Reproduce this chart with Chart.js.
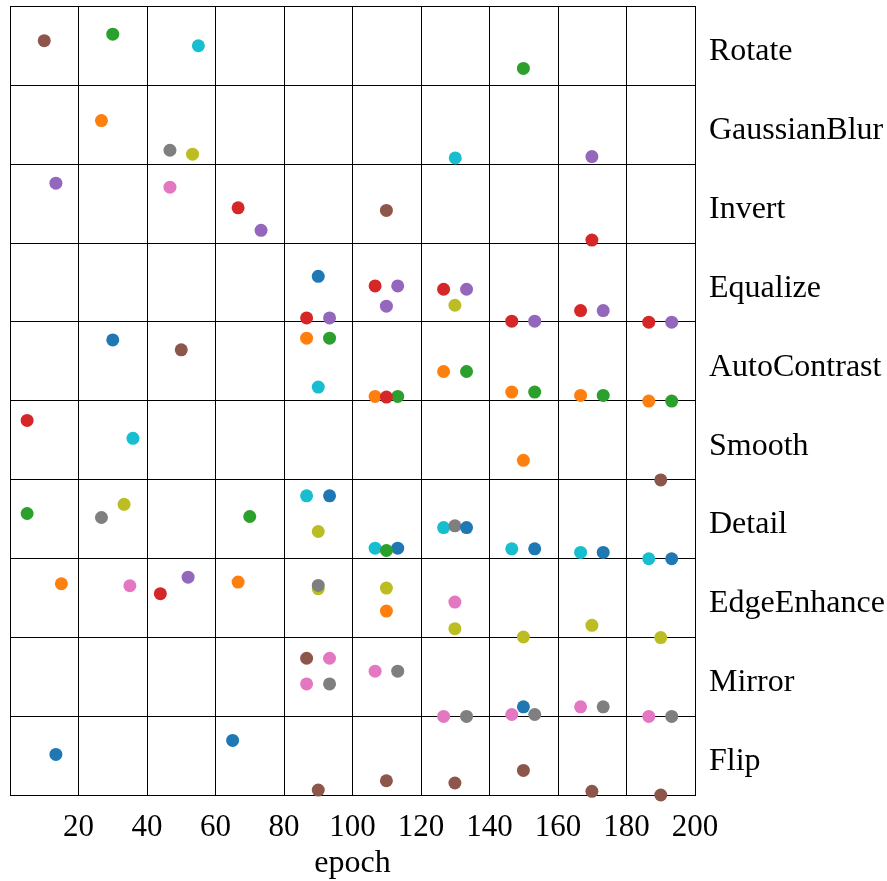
<!DOCTYPE html>
<html>
<head>
<meta charset="utf-8">
<script src="https://cdn.jsdelivr.net/npm/chart.js@4/dist/chart.umd.min.js"></script>
<style>
  html, body { margin: 0; padding: 0; background: #fff; }
  #wrap { width: 887px; height: 881px; }
</style>
</head>
<body>
<div id="wrap"><canvas id="chart"></canvas></div>
<script>
// rows, bottom to top (row i spans i .. i+1 on the y scale)
const rows = ['Flip', 'Mirror', 'EdgeEnhance', 'Detail', 'Smooth', 'AutoContrast', 'Equalize', 'Invert', 'GaussianBlur', 'Rotate'];
const xTicks = [0, 20, 40, 60, 80, 100, 120, 140, 160, 180, 200];

// points per colour: epoch and position on the row scale
const redEpoch = [66.6, 169.9, 86.6, 106.6, 126.6, 146.5, 166.6, 186.5, 109.9, 5, 43.9];
const redY = [7.447, 7.038, 6.051, 6.456, 6.414, 6.009, 6.143, 5.996, 5.047, 4.751, 2.553];

const greenEpoch = [30, 149.9, 93.3, 113.2, 133.3, 153.2, 173.2, 193.2, 5, 70, 109.9];
const greenY = [9.649, 9.215, 5.794, 5.055, 5.371, 5.110, 5.067, 4.996, 3.570, 3.532, 3.101];

const blueEpoch = [90, 30, 93.3, 113.2, 133.3, 153.2, 173.2, 193.2, 149.9, 13.4, 65];
const blueY = [6.578, 5.772, 3.794, 3.130, 3.392, 3.122, 3.076, 2.996, 1.118, 0.515, 0.692];

const grayEpoch = [46.7, 26.7, 129.9, 90, 93.3, 113.2, 133.3, 153.2, 173.2, 193.2];
const grayY = [8.177, 3.519, 3.414, 2.658, 1.409, 1.570, 0.996, 1.021, 1.118, 0.996];

const pinkEpoch = [46.7, 35, 129.9, 93.3, 86.6, 106.6, 126.6, 146.5, 166.6, 186.5];
const pinkY = [7.709, 2.654, 2.447, 1.734, 1.409, 1.570, 0.996, 1.021, 1.118, 0.996];

const oliveEpoch = [53.3, 129.9, 33.3, 90, 90, 109.9, 129.9, 149.9, 169.9, 190];
const oliveY = [8.127, 6.211, 3.687, 3.342, 2.616, 2.624, 2.110, 2.004, 2.152, 1.996];

const cyanEpoch = [55, 130, 90, 35.9, 86.6, 106.6, 126.6, 146.5, 166.6, 186.5];
const cyanY = [9.502, 8.080, 5.173, 4.523, 3.794, 3.130, 3.392, 3.122, 3.076, 2.996];

const orangeEpoch = [26.7, 86.6, 106.6, 126.6, 146.5, 166.6, 186.5, 149.9, 15, 66.6, 109.9];
const orangeY = [8.553, 5.794, 5.055, 5.371, 5.110, 5.067, 4.996, 4.244, 2.679, 2.700, 2.333];

const purpleEpoch = [169.9, 13.4, 73.3, 93.3, 109.9, 113.2, 133.3, 153.2, 173.2, 193.2, 52];
const purpleY = [8.097, 7.759, 7.161, 6.051, 6.199, 6.456, 6.414, 6.009, 6.143, 5.996, 2.763];

const brownEpoch = [10, 109.9, 50, 190, 86.6, 90, 109.9, 129.9, 149.9, 169.9, 190];
const brownY = [9.566, 7.414, 5.646, 3.996, 1.734, 0.063, 0.181, 0.152, 0.312, 0.046, 0.0];

const toPoints = (xs, ys) => xs.map((x, i) => ({x: x, y: ys[i]}));

// first dataset is painted on top
const series = [
    {epoch: redEpoch, y: redY, color: '#d62728'},
    {epoch: greenEpoch, y: greenY, color: '#2ca02c'},
    {epoch: blueEpoch, y: blueY, color: '#1f77b4'},
    {epoch: grayEpoch, y: grayY, color: '#7f7f7f'},
    {epoch: pinkEpoch, y: pinkY, color: '#e377c2'},
    {epoch: oliveEpoch, y: oliveY, color: '#bcbd22'},
    {epoch: cyanEpoch, y: cyanY, color: '#17becf'},
    {epoch: orangeEpoch, y: orangeY, color: '#ff7f0e'},
    {epoch: purpleEpoch, y: purpleY, color: '#9467bd'},
    {epoch: brownEpoch, y: brownY, color: '#8c564b'}
];

const serif = "'Liberation Serif', 'DejaVu Serif', serif";

new Chart(document.getElementById('chart'), {
    type: 'scatter',
    data: {
        datasets: series.map(s => ({
            data: toPoints(s.epoch, s.y),
            backgroundColor: s.color,
            borderWidth: 0,
            pointRadius: 6.5,
            clip: false
        }))
    },
    options: {
        responsive: true,
        maintainAspectRatio: false,
        animation: false,
        layout: {
            padding: {top: 0, left: 10, right: 0, bottom: 0}
        },
        scales: {
            x: {
                type: 'linear',
                min: 0,
                max: 200,
                afterBuildTicks: axis => { axis.ticks = xTicks.map(v => ({value: v})); },
                afterFit: axis => {
                    axis.height = 86;
                    axis.paddingLeft = 0;
                    axis.paddingRight = 0;
                },
                grid: {color: '#000', lineWidth: 1, drawTicks: false},
                border: {color: '#000', width: 1},
                ticks: {
                    color: '#000',
                    font: {family: serif, size: 31},
                    padding: 14,
                    maxRotation: 0,
                    callback: v => v === 0 ? '' : v
                },
                title: {
                    display: true,
                    text: 'epoch',
                    color: '#000',
                    font: {family: serif, size: 32, lineHeight: 1.1},
                    padding: {top: 0, bottom: 0}
                }
            },
            y: {
                type: 'linear',
                position: 'left',
                min: 0,
                max: 10,
                afterBuildTicks: axis => { axis.ticks = rows.map((r, i) => ({value: i})).concat([{value: 10}]); },
                afterFit: axis => {
                    axis.width = 0;
                    axis.paddingTop = 0;
                    axis.paddingBottom = 0;
                },
                grid: {color: '#000', lineWidth: 1, drawTicks: false},
                border: {color: '#000', width: 1},
                ticks: {display: false}
            },
            rowLabels: {
                type: 'linear',
                position: 'right',
                min: 0,
                max: 10,
                afterBuildTicks: axis => { axis.ticks = rows.map((r, i) => ({value: i + 0.5})); },
                afterFit: axis => {
                    axis.width = 192;
                    axis.paddingTop = 0;
                    axis.paddingBottom = 0;
                },
                grid: {display: false, drawTicks: false},
                border: {color: '#000', width: 1},
                ticks: {
                    color: '#000',
                    font: {family: serif, size: 32},
                    padding: 14,
                    labelOffset: 6,
                    callback: v => rows[Math.floor(v)]
                }
            }
        },
        plugins: {
            legend: {display: false},
            tooltip: {enabled: false}
        }
    }
});
</script>
</body>
</html>
